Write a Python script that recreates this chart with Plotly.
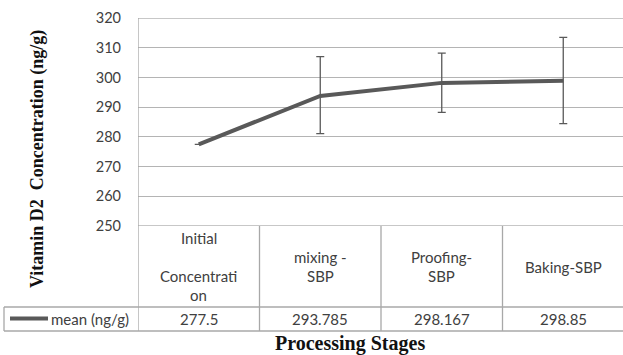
import plotly.graph_objects as go

# Data
stages = ["Initial<br><br>Concentrati<br>on", "mixing -<br>SBP", "Proofing-<br>SBP", "Baking-SBP"]
mean_ngg = [277.5, 293.785, 298.167, 298.85]
err_plus = [None, 13.2, 10.0, 14.6]
err_minus = [None, 12.7, 9.9, 14.4]
series_name = "mean (ng/g)"
y_ticks = [250, 260, 270, 280, 290, 300, 310, 320]
y_title = "Vitamin D2  Concentration (ng/g)"
x_title = "Processing Stages"

W, H = 623, 355
L, T, B = 138, 18, 129          # plot area margins (px)
PW, PH = W - L, H - T - B       # plot area size
COL = 121.5                     # width of one category column (px)

LINE_C = "#595959"
GRID_C = "#b4b4b4"
TAB_C = "#a8a8a8"
TXT_C = "#404040"
FONT = "Lato"

def px_x(px):
    return (px - L) / PW

def px_y(py):
    return (H - B - py) / PH

x_idx = list(range(len(stages)))

fig = go.Figure()
fig.add_trace(go.Scatter(
    x=x_idx, y=mean_ngg, mode="lines", name=series_name,
    line=dict(color=LINE_C, width=4),
    error_y=dict(type="data", symmetric=False, array=err_plus, arrayminus=err_minus,
                 color=LINE_C, thickness=1.3, width=4),
    showlegend=False,
))

shapes = []
# outer gridlines at the ends of the value range
for yv in (y_ticks[0], y_ticks[-1]):
    shapes.append(dict(type="line", xref="paper", yref="y", x0=0, x1=1, y0=yv, y1=yv,
                       line=dict(color=GRID_C, width=1.3)))
# table: column separators below the plot area (first one is also the value axis)
y_row = px_y(307)
y_bot = px_y(331)
for k in range(len(stages) + 1):
    shapes.append(dict(type="line", xref="x", yref="paper", x0=k - 0.5, x1=k - 0.5,
                       y0=1 if k == 0 else 0, y1=y_bot, line=dict(color=TAB_C, width=1.3)))
for yy in (y_row, y_bot):
    shapes.append(dict(type="line", xref="paper", yref="paper", x0=px_x(4), x1=1.0,
                       y0=yy, y1=yy, line=dict(color=TAB_C, width=1.3)))
shapes.append(dict(type="line", xref="paper", yref="paper", x0=px_x(4), x1=px_x(4),
                   y0=y_row, y1=y_bot, line=dict(color=TAB_C, width=1.3)))
# legend key in the table row
shapes.append(dict(type="line", xref="paper", yref="paper", x0=px_x(10), x1=px_x(48),
                   y0=px_y(318.5), y1=px_y(318.5), line=dict(color=LINE_C, width=4)))

ann = []
cell_mid = (H - B + 307) / 2.0
line_h = 19.0
for k, lab in enumerate(stages):
    parts = lab.split("<br>")
    n = len(parts)
    for j, part in enumerate(parts):
        if not part:
            continue
        py = cell_mid + (j - (n - 1) / 2.0) * line_h
        ann.append(dict(x=k, xref="x", y=px_y(py), yref="paper", text=part,
                        showarrow=False, xanchor="center", yanchor="middle",
                        font=dict(family=FONT, size=15, color=TXT_C)))
    ann.append(dict(x=k, xref="x", y=px_y(318.5), yref="paper", text=str(mean_ngg[k]),
                    showarrow=False, xanchor="center", yanchor="middle",
                    font=dict(family=FONT, size=15, color=TXT_C)))
ann.append(dict(x=px_x(49), xref="paper", y=px_y(318.5), yref="paper", text=series_name,
                showarrow=False, xanchor="left", yanchor="middle",
                font=dict(family=FONT, size=15, color=TXT_C)))
ann.append(dict(x=px_x(37), xref="paper", y=px_y(159), yref="paper",
                text="<b>" + y_title + "</b>",
                textangle=-90, showarrow=False, xanchor="center", yanchor="middle",
                font=dict(family="Liberation Serif", size=18, color="#111111")))
ann.append(dict(x=px_x(350), xref="paper", y=px_y(343), yref="paper",
                text="<b>" + x_title + "</b>",
                showarrow=False, xanchor="center", yanchor="middle",
                font=dict(family="Liberation Serif", size=20, color="#111111")))

fig.update_layout(
    width=W, height=H,
    margin=dict(l=L, r=0, t=T, b=B, pad=0),
    paper_bgcolor="white", plot_bgcolor="white",
    xaxis=dict(range=[-0.5, -0.5 + PW / COL], showticklabels=False, showgrid=False,
               zeroline=False, showline=False, fixedrange=True),
    yaxis=dict(range=[250, 320], tickvals=y_ticks, showgrid=True, gridcolor=GRID_C,
               gridwidth=1.3, zeroline=False, showline=False, ticks="",
               ticklabelstandoff=16,
               tickfont=dict(family=FONT, size=14.5, color=TXT_C)),
    shapes=shapes, annotations=ann,
)

fig.write_html("out.html")
